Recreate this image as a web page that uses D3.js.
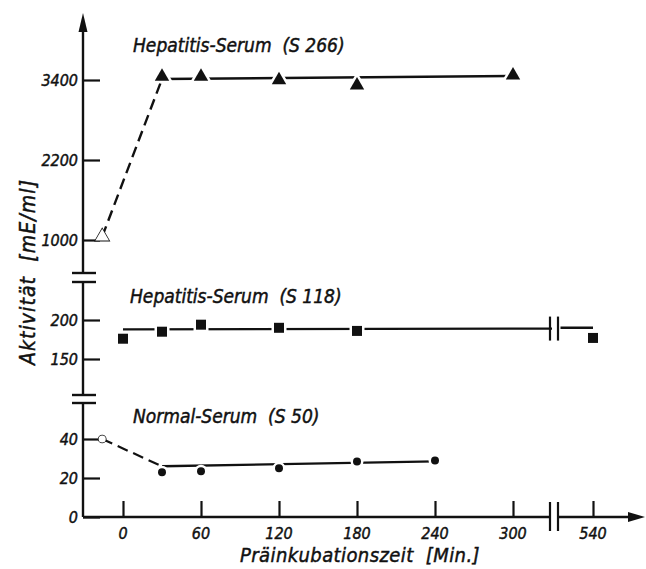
<!DOCTYPE html>
<html><head><meta charset="utf-8">
<script src="https://cdn.jsdelivr.net/npm/d3@7"></script>
<style>
body{margin:0;background:#fff;}
text{font-family:"DejaVu Sans Condensed","DejaVu Sans",sans-serif;font-style:italic;fill:#111;white-space:pre;stroke:#111;stroke-width:0.45px;}
</style></head>
<body><svg id="c" width="646" height="569"></svg>
<script>
// ---- data ----
const xTicks = [0, 60, 120, 180, 240, 300, 540];
const topTicks = [1000, 2200, 3400];
const midTicks = [150, 200];
const botTicks = [0, 20, 40];

const s266Start = [[-16, 1050]];
const s266Times = [30, 60, 120, 180, 300];
const s266Values = [3450, 3450, 3400, 3320, 3470];
const s266Fit = [[30, 3415], [300, 3460]];

const s118Times = [0, 30, 60, 120, 180, 540];
const s118Values = [176, 185, 194, 190, 186, 177];
const s118Fit = [[0, 188], [330, 189], [515, 190], [540, 190]];

const s50Start = [[-16, 40]];
const s50Times = [30, 60, 120, 180, 240];
const s50Values = [23, 23.5, 25, 28.5, 29];
const s50Fit = [[30, 26], [240, 28.5]];

const titles = ["Hepatitis-Serum  (S 266)", "Hepatitis-Serum  (S 118)", "Normal-Serum  (S 50)"];

// ---- scales ----
const x = d3.scaleLinear().domain([-20, 330, 515, 540, 580]).range([97, 552, 560.5, 593, 645]);
const yTop = d3.scaleLinear().domain([1000, 3400]).range([240, 80]);
const yMid = d3.scaleLinear().domain([150, 200]).range([359, 320]);
const yBot = d3.scaleLinear().domain([0, 40]).range([517, 439]);

const svg = d3.select("#c");
const ink = "#111";
const AX = 83;           // y-axis x position
const axisY = yBot(0);

// ---- y axis pieces ----
function vline(y1, y2) {
  svg.append("line").attr("x1", AX).attr("x2", AX).attr("y1", y1).attr("y2", y2)
    .attr("stroke", ink).attr("stroke-width", 2.4);
}
vline(273, 28);
vline(282, 395);
vline(403, axisY);
svg.append("path").attr("d", `M${AX},13 L${AX-4.5},32 L${AX+4.5},32 Z`).attr("fill", ink);
[273, 282, 395, 403].forEach(y => {
  svg.append("line").attr("x1", AX - 11).attr("x2", AX + 13).attr("y1", y).attr("y2", y)
    .attr("stroke", ink).attr("stroke-width", 2.4);
});

function yAxis(scale, ticks) {
  const g = svg.append("g").attr("transform", `translate(${AX},0)`)
    .call(d3.axisRight(scale).tickValues(ticks).tickSize(17).tickFormat(""));
  g.select(".domain").remove();
  g.selectAll("line").attr("stroke", ink).attr("stroke-width", 2.2);
  svg.append("g").selectAll("text").data(ticks).join("text")
    .attr("x", AX - 5).attr("y", d => scale(d)).attr("dy", "0.36em")
    .attr("text-anchor", "end").attr("font-size", 16).text(d => d);
}
yAxis(yTop, topTicks);
yAxis(yMid, midTicks);
yAxis(yBot, botTicks);

// ---- x axis ----
const brk1 = 550, brk2 = 558;
svg.append("line").attr("x1", AX).attr("x2", brk1).attr("y1", axisY).attr("y2", axisY)
  .attr("stroke", ink).attr("stroke-width", 2.4);
svg.append("line").attr("x1", brk2).attr("x2", 632).attr("y1", axisY).attr("y2", axisY)
  .attr("stroke", ink).attr("stroke-width", 2.4);
svg.append("path").attr("d", `M645,${axisY} L628,${axisY-5} L628,${axisY+5} Z`).attr("fill", ink);
[brk1, brk2].forEach(bx => {
  svg.append("line").attr("x1", bx).attr("x2", bx).attr("y1", axisY - 15).attr("y2", axisY + 14)
    .attr("stroke", ink).attr("stroke-width", 2.2);
});
const gx = svg.append("g").attr("transform", `translate(0,${axisY})`)
  .call(d3.axisTop(x).tickValues(xTicks).tickSize(16).tickFormat(""));
gx.select(".domain").remove();
gx.selectAll("line").attr("stroke", ink).attr("stroke-width", 2.2);
svg.append("g").selectAll("text").data(xTicks).join("text")
  .attr("x", d => x(d)).attr("y", axisY + 22).attr("text-anchor", "middle")
  .attr("font-size", 16).text(d => d);

// ---- axis titles ----
svg.append("text").attr("x", 360).attr("y", 562).attr("text-anchor", "middle")
  .attr("font-size", 20).attr("letter-spacing", 0.4).text("Präinkubationszeit  [Min.]");
svg.append("text").attr("transform", "translate(35,272) rotate(-90)").attr("text-anchor", "middle")
  .attr("font-size", 21).attr("letter-spacing", 1.1).text("Aktivität  [mE/ml]");

// ---- panel titles ----
svg.append("text").attr("x", 133).attr("y", 52).attr("font-size", 19).text(titles[0]);
svg.append("text").attr("x", 130).attr("y", 303).attr("font-size", 19).text(titles[1]);
svg.append("text").attr("x", 133).attr("y", 423).attr("font-size", 19).text(titles[2]);

// ---- lines ----
function drawLine(pts, scale, dashed, w) {
  svg.append("path").datum(pts)
    .attr("d", d3.line().x(d => x(d[0])).y(d => scale(d[1])))
    .attr("fill", "none").attr("stroke", ink).attr("stroke-width", w || 2.4)
    .attr("stroke-dasharray", dashed ? "11,6" : null);
}
drawLine([s266Start[0], s266Fit[0]], yTop, true);
drawLine(s266Fit, yTop, false);
drawLine(s118Fit.slice(0, 2), yMid, false);
drawLine(s118Fit.slice(2), yMid, false);
[brk1, brk2].forEach(bx => {
  svg.append("line").attr("x1", bx).attr("x2", bx).attr("y1", yMid(189) - 12).attr("y2", yMid(189) + 12)
    .attr("stroke", ink).attr("stroke-width", 2.2);
});
drawLine([s50Start[0], s50Fit[0]], yBot, true, 2.2);
drawLine(s50Fit, yBot, false);

// ---- markers ----
function markers(times, vals, scale, type, size, filled) {
  svg.append("g").selectAll("path").data(times.map((t, i) => [t, vals[i]])).join("path")
    .attr("transform", d => `translate(${x(d[0])},${scale(d[1])})`)
    .attr("d", d3.symbol().type(type).size(size))
    .attr("fill", filled ? ink : "#fff")
    .attr("stroke", filled ? "#fff" : ink)
    .attr("stroke-width", filled ? 5 : 1.6)
    .attr("paint-order", "stroke");
}
markers(s266Times, s266Values, yTop, d3.symbolTriangle, 90, true);
markers([s266Start[0][0]], [s266Start[0][1]], yTop, d3.symbolTriangle, 80, false);
markers(s118Times, s118Values, yMid, d3.symbolSquare, 100, true);
markers(s50Times, s50Values, yBot, d3.symbolCircle, 50, true);
markers([s50Start[0][0]], [s50Start[0][1]], yBot, d3.symbolCircle, 40, false);
</script></body></html>
